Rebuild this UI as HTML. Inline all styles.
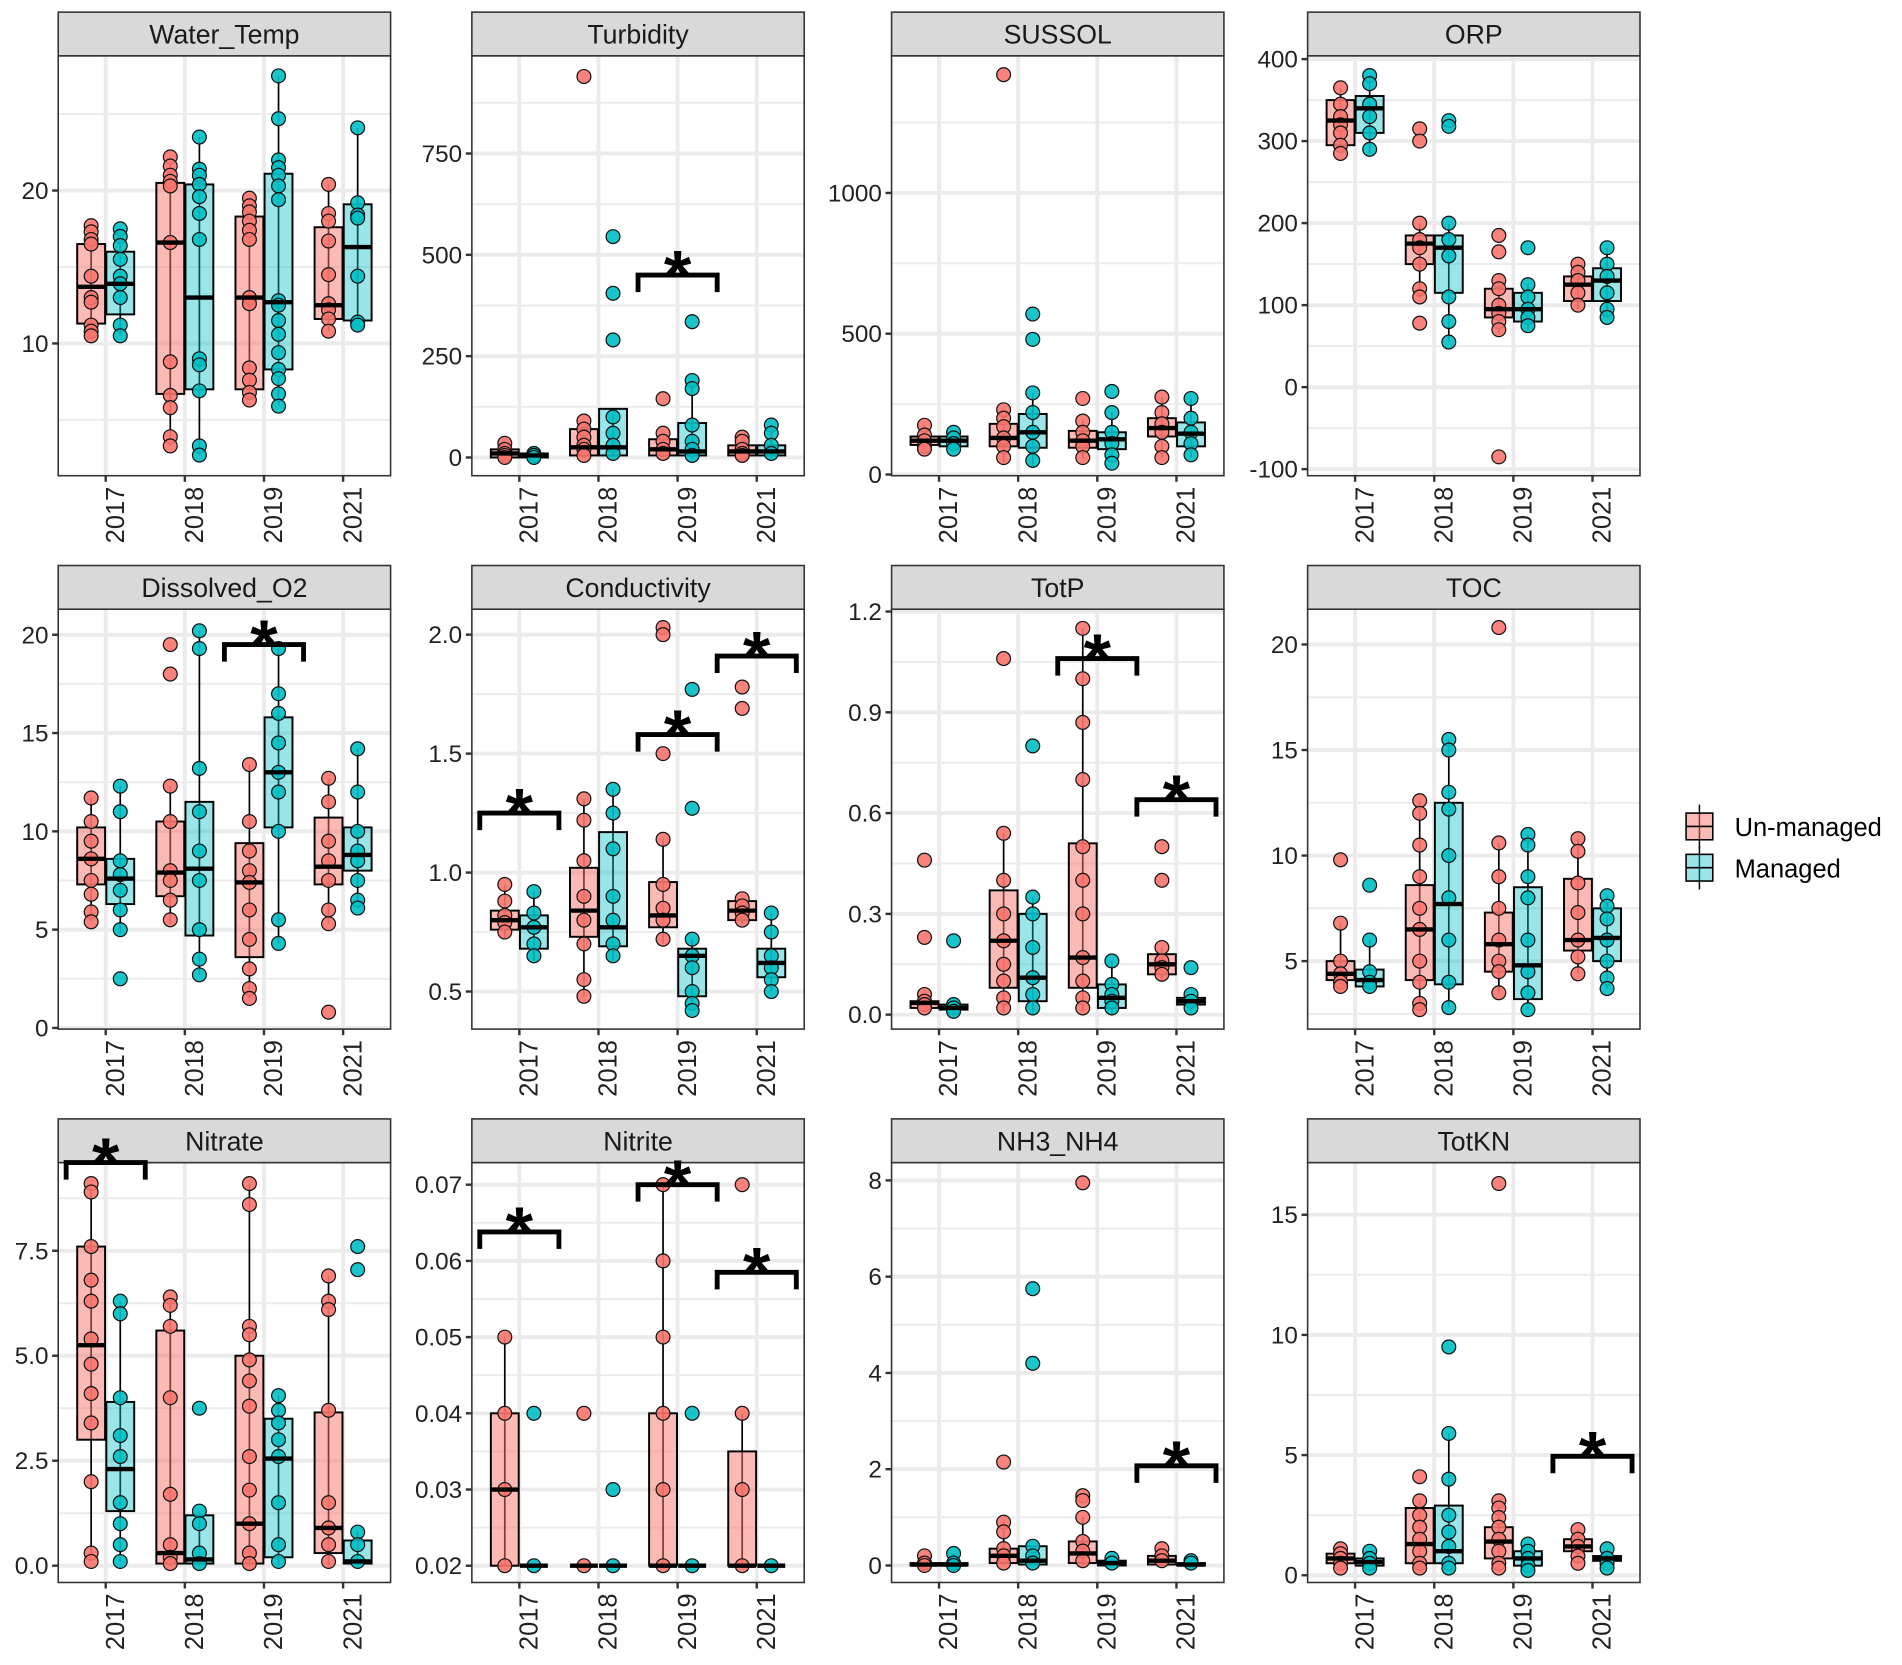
<!DOCTYPE html>
<html><head><meta charset="utf-8">
<style>
html,body{margin:0;padding:0;background:#fff;}
svg{display:block;font-family:"Liberation Sans",Arial,sans-serif;}
</style></head>
<body>
<svg id="chart" width="1902" height="1665" viewBox="0 0 1568 1372" preserveAspectRatio="none" xmlns="http://www.w3.org/2000/svg">
<g id="legend">
  <g>
    <line x1="1401" y1="663" x2="1401" y2="699" stroke="#000" stroke-width="1.2"/>
    <rect x="1390" y="670" width="22" height="22" fill="rgba(248,118,109,0.5)" stroke="#000" stroke-width="1.3"/>
    <line x1="1390" y1="681" x2="1412" y2="681" stroke="#000" stroke-width="1.3"/>
    <text x="1430" y="689" font-size="21" fill="#000">Un-managed</text>
  </g>
  <g>
    <line x1="1401" y1="697" x2="1401" y2="733" stroke="#000" stroke-width="1.2"/>
    <rect x="1390" y="704" width="22" height="22" fill="rgba(0,191,196,0.4)" stroke="#000" stroke-width="1.3"/>
    <line x1="1390" y1="715" x2="1412" y2="715" stroke="#000" stroke-width="1.3"/>
    <text x="1430" y="723" font-size="21" fill="#000">Managed</text>
  </g>
</g>
</svg>
<script>
const years = ['2017','2018','2019','2021'];
const groups = ['Un-managed','Managed'];
const panelTitles = ['Water_Temp','Turbidity','SUSSOL','ORP','Dissolved_O2','Conductivity','TotP','TOC','Nitrate','Nitrite','NH3_NH4','TotKN'];
const panelDomains = [[1.35,28.81],[-45,991],[-4.3,1487],[-108,404],[-0.06,21.3],[0.342,2.107],[-0.043,1.207],[1.78,21.67],[-0.40,9.6],[0.0178,0.0729],[-0.353,8.37],[-0.30,17.17]];
const panelTicks = [[10,20],[0,250,500,750],[0,500,1000],[-100,0,100,200,300,400],[0,5,10,15,20],[0.5,1,1.5,2],[0,0.3,0.6,0.9,1.2],[5,10,15,20],[0,2.5,5,7.5],[0.02,0.03,0.04,0.05,0.06,0.07],[0,2,4,6,8],[0,5,10,15]];
const panelTickLabels = [['10','20'],['0','250','500','750'],['0','500','1000'],['-100','0','100','200','300','400'],['0','5','10','15','20'],['0.5','1.0','1.5','2.0'],['0.0','0.3','0.6','0.9','1.2'],['5','10','15','20'],['0.0','2.5','5.0','7.5'],['0.02','0.03','0.04','0.05','0.06','0.07'],['0','2','4','6','8'],['0','5','10','15']];

// box stats per group: [lo, q1, median, q3, hi]; order 2017U,2017M,2018U,2018M,2019U,2019M,2021U,2021M
const waterTempBoxes = [[10.6,11.3,13.7,16.5,17.7],[10.5,11.9,13.9,16.0,17.5],[3.3,6.7,16.6,20.5,22.2],[2.7,7,13,20.4,23.5],[6.3,7,13,18.3,19.5],[5.9,8.3,12.7,21.1,27.5],[10.8,11.6,12.5,17.6,20.4],[11.2,11.5,16.3,19.1,24.1]];
const waterTempPoints = [[17.7,17.3,16.8,16.5,14.4,13,12.7,11.2,10.8,10.5],[17.5,17,16.4,15.5,14.4,13.9,13,11.2,10.5],[22.2,21.6,21,20.6,20.3,16.6,8.8,6.6,5.8,3.9,3.3],[23.5,21.4,21,20.4,19.6,18.5,16.8,9,8.6,6.9,3.3,2.7],[19.5,19,18.6,18,17.4,16.8,13,12.6,8.4,7.6,6.8,6.3],[27.5,24.7,22,21.5,21,20.3,19.4,12.8,12.5,11.5,10.6,9.4,8.3,7.7,6.7,5.9],[20.4,18.5,18,16.7,14.5,12.6,12.2,11.6,10.8],[24.1,19.2,18.4,18.2,14.4,11.4,11.2]];
const turbidityBoxes = [[0,0,10,20,35],[0,0,5,10,10],[0,5,25,70,90],[0,5,25,120,120],[0,5,20,45,60],[0,5,15,85,190],[0,5,15,30,50],[0,5,15,30,80]];
const turbidityPoints = [[35,20,10,5,0],[10,5,0],[940,90,70,50,30,20,5],[545,405,290,100,60,30,10],[145,60,40,20,10],[335,190,170,80,40,20,5],[50,40,20,10,5],[80,60,30,10]];
const sussolBoxes = [[90,105,120,135,175],[80,100,120,135,155],[40,100,130,180,230],[30,95,150,215,290],[55,95,120,155,190],[40,90,125,150,220],[60,135,165,200,275],[60,100,145,185,270]];
const sussolPoints = [[175,140,120,100,90],[150,130,110,90],[1420,230,200,170,130,100,60],[570,480,290,220,150,100,50],[270,190,150,120,100,60],[295,220,150,110,70,40],[275,220,180,150,100,60],[270,200,150,110,70]];
const orpBoxes = [[285,295,325,350,365],[285,310,340,355,380],[110,150,175,185,200],[55,115,170,185,200],[65,85,95,120,130],[70,80,95,115,125],[95,105,125,135,150],[85,105,130,145,170]];
const orpPoints = [[365,345,330,320,310,295,285],[380,370,345,330,310,290],[315,300,200,180,170,150,120,110,78],[325,318,200,180,160,110,80,55],[185,165,130,120,100,90,80,70,-85],[170,125,110,95,85,75],[150,140,130,115,100],[170,150,135,115,95,85]];
const dissolvedO2Boxes = [[5.4,7.3,8.6,10.2,11.7],[4.8,6.3,7.6,8.6,12.3],[5.3,6.7,7.9,10.5,12.3],[2.7,4.7,8.1,11.5,20.2],[1.5,3.6,7.4,9.4,13.4],[4.3,10.2,13,15.8,19.3],[5.3,7.3,8.2,10.7,12.7],[6.1,8,8.8,10.2,14.2]];
const dissolvedO2Points = [[11.7,10.5,9.5,8.6,7.5,6.8,5.9,5.4],[12.3,11,8.5,7.8,7,6,5,2.5],[19.5,18,12.3,10.5,8,7.5,6.5,5.5],[20.2,19.3,13.2,11,9,7.5,5,3.5,2.7],[13.4,10.5,9,8,7.4,6,4.5,3,2,1.5],[19.3,17,16,14.5,13,12,10,5.5,4.3],[12.7,11.5,9.5,8.5,7.5,6,5.3,0.8],[14.2,12,10,9,8.5,7.5,6.5,6.1]];
const conductivityBoxes = [[0.72,0.76,0.8,0.84,0.95],[0.63,0.68,0.77,0.82,0.92],[0.48,0.73,0.84,1.02,1.31],[0.63,0.69,0.77,1.17,1.35],[0.7,0.77,0.82,0.96,1.14],[0.42,0.48,0.65,0.68,0.72],[0.78,0.8,0.84,0.88,0.89],[0.5,0.56,0.62,0.68,0.83]];
const conductivityPoints = [[0.95,0.88,0.82,0.79,0.75],[0.92,0.83,0.77,0.7,0.65],[1.31,1.22,1.05,0.9,0.8,0.7,0.55,0.48],[1.35,1.25,1.1,0.9,0.8,0.7,0.65],[2.03,2.0,1.5,1.14,0.95,0.85,0.8,0.72],[1.77,1.27,0.72,0.65,0.6,0.5,0.45,0.42],[1.78,1.69,0.89,0.86,0.83,0.8],[0.83,0.75,0.65,0.6,0.55,0.5]];
const totPBoxes = [[0.01,0.02,0.035,0.04,0.06],[0.01,0.015,0.02,0.03,0.03],[0.01,0.08,0.22,0.37,0.54],[0,0.04,0.11,0.3,0.35],[0.01,0.08,0.17,0.51,1.15],[0,0.02,0.05,0.09,0.16],[0.1,0.12,0.15,0.18,0.2],[0.01,0.03,0.04,0.05,0.06]];
const totPPoints = [[0.46,0.23,0.06,0.04,0.03,0.02],[0.22,0.03,0.02,0.01],[1.06,0.54,0.4,0.3,0.22,0.15,0.1,0.05,0.02],[0.8,0.35,0.3,0.2,0.11,0.06,0.02],[1.15,1.0,0.87,0.7,0.5,0.4,0.3,0.17,0.1,0.05,0.02],[0.16,0.09,0.06,0.04,0.02],[0.5,0.4,0.2,0.16,0.14,0.12],[0.14,0.06,0.04,0.02]];
const tocBoxes = [[3.8,4.1,4.4,5,6.8],[3.7,3.8,4.1,4.6,6],[2.7,4.1,6.5,8.6,12.6],[2.8,3.9,7.7,12.5,15.5],[3.5,4.5,5.8,7.3,10.6],[2.7,3.2,4.8,8.5,11],[4.4,5.5,6,8.9,10.8],[3.7,5,6.1,7.5,8.1]];
const tocPoints = [[9.8,6.8,5,4.4,4,3.8],[8.6,6,4.5,4,3.8],[12.6,12,10.5,9,7.5,6.5,5,4,3,2.7],[15.5,15,13,12.2,10,8,6,4,2.8],[20.8,10.6,9,7.5,6,5,4.5,3.5],[11,10.5,9,8,6,4.5,3.5,2.7],[10.8,10.2,8.7,7.3,6,5.2,4.4],[8.1,7.6,7,6,5,4.2,3.7]];
const nitrateBoxes = [[0.1,3.0,5.25,7.6,9.1],[0.1,1.3,2.3,3.9,6.3],[0,0.05,0.3,5.6,6.4],[0,0.05,0.15,1.2,1.3],[0,0.05,1.0,5.0,9.1],[0,0.2,2.55,3.5,4.05],[0,0.3,0.9,3.65,6.9],[0,0.05,0.1,0.6,0.8]];
const nitratePoints = [[9.1,8.9,7.6,6.8,6.3,5.4,4.8,4.1,3.4,2.0,0.3,0.1],[6.3,6,4,3.1,2.6,1.5,1,0.5,0.1],[6.4,6.2,5.7,4,1.7,0.5,0.2,0.05],[3.75,1.3,1,0.3,0.05],[9.1,8.6,5.7,5.5,4.9,4.4,3.8,2.6,1.8,1,0.3,0.05],[4.05,3.7,3.4,3,2.6,1.5,0.5,0.1],[6.9,6.3,6.1,3.7,1.5,0.9,0.5,0.1],[7.6,7.05,0.8,0.5,0.1]];
const nitriteBoxes = [[0.02,0.02,0.03,0.04,0.05],[0.02,0.02,0.02,0.02,0.02],[0.02,0.02,0.02,0.02,0.02],[0.02,0.02,0.02,0.02,0.02],[0.02,0.02,0.02,0.04,0.07],[0.02,0.02,0.02,0.02,0.02],[0.02,0.02,0.02,0.035,0.04],[0.02,0.02,0.02,0.02,0.02]];
const nitritePoints = [[0.05,0.04,0.03,0.02],[0.04,0.02],[0.04,0.02],[0.03,0.02],[0.07,0.06,0.05,0.04,0.03,0.02],[0.04,0.02],[0.07,0.04,0.03,0.02],[0.02]];
const nh3Boxes = [[0,0,0.02,0.05,0.2],[0,0,0.02,0.05,0.25],[0,0.05,0.2,0.35,0.9],[0,0.02,0.1,0.4,0.4],[0,0.05,0.25,0.5,1.0],[0,0,0.05,0.1,0.15],[0,0.02,0.1,0.2,0.35],[0,0,0.02,0.05,0.1]];
const nh3Points = [[0.2,0.05,0],[0.25,0.05,0],[2.15,0.9,0.7,0.35,0.2,0.05],[5.75,4.2,0.4,0.2,0.05],[7.95,1.45,1.35,1.0,0.5,0.3,0.1],[0.15,0.05],[0.35,0.2,0.1],[0.1,0.05]];
const totKNBoxes = [[0.3,0.5,0.7,0.9,1.1],[0.3,0.4,0.55,0.7,1.0],[0.3,0.5,1.3,2.8,3.1],[0.3,0.5,1.0,2.9,5.9],[0.3,0.7,1.4,2,3.1],[0.2,0.4,0.7,1,1.3],[0.5,1.0,1.2,1.5,1.9],[0.3,0.6,0.7,0.8,1.1]];
const totKNPoints = [[1.1,0.9,0.7,0.5,0.3],[1.0,0.7,0.5,0.3],[4.1,3.1,2.5,2,1.5,1,0.5,0.3],[9.5,5.9,4.0,2.5,1.8,1.2,0.5,0.3],[16.3,3.1,2.8,2.4,2,1.5,1,0.5,0.3],[1.3,1,0.7,0.4,0.2],[1.9,1.5,1.2,0.8,0.5],[1.1,0.7,0.5,0.3]];

// significance brackets: panel index, year index, bracket value
const sigPanels = [1,4,5,5,5,6,6,8,9,9,9,10,11];
const sigYears  = [2,2,0,2,3,2,3,0,0,2,3,3,3];
const sigValues = [450,19.5,1.25,1.58,1.91,1.06,0.64,9.6,0.0638,0.07,0.0585,2.07,4.95];

const allBoxes = [waterTempBoxes,turbidityBoxes,sussolBoxes,orpBoxes,dissolvedO2Boxes,conductivityBoxes,totPBoxes,tocBoxes,nitrateBoxes,nitriteBoxes,nh3Boxes,totKNBoxes];
const allPoints = [waterTempPoints,turbidityPoints,sussolPoints,orpPoints,dissolvedO2Points,conductivityPoints,totPPoints,tocPoints,nitratePoints,nitritePoints,nh3Points,totKNPoints];

const NS='http://www.w3.org/2000/svg';
const svg=document.getElementById('chart');
const colLeft=[48,389,735,1078], rowTop=[46,502,958], PW=274, PH=346, STRIP=36;
const fills=['rgba(248,118,109,0.5)','rgba(0,191,196,0.4)'];
const ptFills=['#F8766D','#00BFC4'];
function mk(tag,attrs,parent){const e=document.createElementNS(NS,tag);for(const k in attrs)e.setAttribute(k,attrs[k]);(parent||svg).appendChild(e);return e;}

const panelScales=[];
for(let p=0;p<12;p++){
  const L=colLeft[p%4], T=rowTop[Math.floor(p/4)];
  const dom=panelDomains[p];
  const y=v=>T+PH-(v-dom[0])/(dom[1]-dom[0])*PH;
  const x=i=>L+(0.6+i)*(PW/4.2);
  panelScales.push({x,y,L,T});
  const g=mk('g',{});
  
  
  mk('rect',{x:L,y:T,width:PW,height:PH,fill:'#fff'},g);
  const tk=panelTicks[p];
  const step=tk.length>1?tk[1]-tk[0]:10;
  for(let v=tk[0]-step/2;v<=dom[1];v+=step){
    if(v<dom[0])continue;
    const gl=mk('line',{x1:L,x2:L+PW,y1:y(v),y2:y(v),stroke:'#ebebeb','stroke-width':1.6},g);
    
    
  }
  for(let i=0;i<4;i++){
    const gl=mk('line',{x1:x(i),x2:x(i),y1:T,y2:T+PH,stroke:'#ebebeb','stroke-width':3.2},g);
    
    
  }
  tk.forEach((v,i)=>{
    mk('line',{x1:L,x2:L+PW,y1:y(v),y2:y(v),stroke:'#ebebeb','stroke-width':3.2},g);
    mk('line',{x1:L-5,x2:L,y1:y(v),y2:y(v),stroke:'#333','stroke-width':2},g);
    const t=mk('text',{x:L-8,y:y(v)+7,'text-anchor':'end','font-size':20,fill:'#222'},g);
    
    
    t.textContent=panelTickLabels[p][i];
  });
  years.forEach((yr,i)=>{
    mk('line',{x1:x(i),x2:x(i),y1:T+PH,y2:T+PH+5,stroke:'#333','stroke-width':2},g);
    const t=mk('text',{x:0,y:0,'text-anchor':'end','font-size':21,fill:'#222',transform:`translate(${x(i)+15},${T+PH+9}) rotate(-90)`},g);
    
    
    t.textContent=yr;
  });
  const boxes=allBoxes[p], pts=allPoints[p];
  for(let k=0;k<8;k++){
    const yi=Math.floor(k/2), gi=k%2;
    const cx=x(yi)+(gi===0?-12:12), hw=11.5;
    const b=boxes[k];
    const bg=mk('g',{},g);
    
    
    mk('line',{x1:cx,x2:cx,y1:y(b[0]),y2:y(b[4]),stroke:'#000','stroke-width':1.4},bg);
    mk('rect',{x:cx-hw,y:y(b[3]),width:hw*2,height:Math.max(0,y(b[1])-y(b[3])),fill:fills[gi],stroke:'#000','stroke-width':1.6},bg);
    pts[k].forEach(v=>{
      const c=mk('circle',{cx:cx,cy:y(v),r:5.7,fill:ptFills[gi],'fill-opacity':0.9,stroke:'#111','stroke-width':1},bg);
      
      
    });
    mk('line',{x1:cx-hw,x2:cx+hw,y1:y(b[2]),y2:y(b[2]),stroke:'#000','stroke-width':3.6},bg);
  }
  mk('rect',{x:L,y:T,width:PW,height:PH,fill:'none',stroke:'#333','stroke-width':1.3},g);
  const s=mk('rect',{x:L,y:T-STRIP,width:PW,height:STRIP,fill:'#d9d9d9',stroke:'#333','stroke-width':1.3},g);
  
  
  const st=mk('text',{x:L+PW/2,y:T-STRIP/2+8,'text-anchor':'middle','font-size':22,fill:'#1a1a1a'},g);
  
  
  st.textContent=panelTitles[p];
}
for(let i=0;i<sigPanels.length;i++){
  const sc=panelScales[sigPanels[i]];
  const cx=sc.x(sigYears[i]), by=sc.y(sigValues[i]), hw=PW/4.2/2;
  const g=mk('g',{});
  
  
  mk('path',{d:`M${cx-hw},${by+14} L${cx-hw},${by} L${cx+hw},${by} L${cx+hw},${by+14}`,fill:'none',stroke:'#000','stroke-width':4},g);
  const t=mk('text',{x:cx,y:by+20,'text-anchor':'middle','font-size':58,'font-weight':'bold',fill:'#000'},g);
  
  
  t.textContent='*';
}
svg.appendChild(document.getElementById('legend'));
</script>
</body></html>
